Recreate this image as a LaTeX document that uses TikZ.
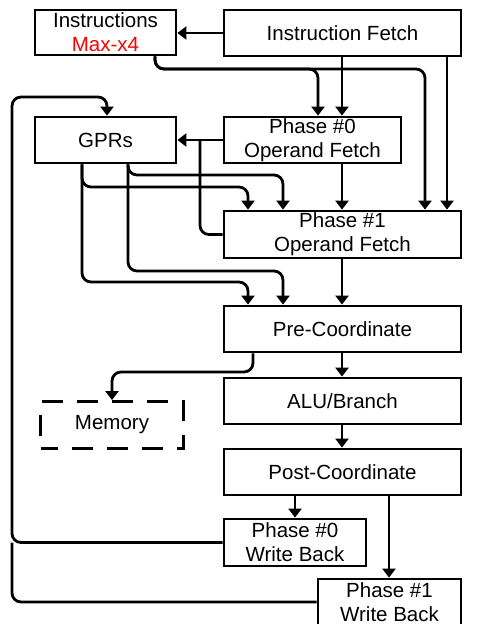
\documentclass[tikz,border=0pt]{standalone}
\usepackage{fontspec}
\setmainfont{Liberation Sans}
\usetikzlibrary{arrows.meta}
\begin{document}
\begin{tikzpicture}[x=1pt,y=-1pt,
  box/.style={draw,line width=2.8pt,inner sep=0pt,align=center,
    font=\fontsize{20.5}{24}\selectfont},
  link/.style={line width=2.8pt,rounded corners=9pt},
  arr/.style={link,-{Triangle[length=9pt,width=13pt]}}]
\useasboundingbox (0,0) rectangle (478,624);
% nodes
\node[box,minimum width=141pt,minimum height=45pt] (instr) at (105.5,32.5) {Instructions\\\textcolor{red}{Max-x4}};
\node[box,minimum width=237pt,minimum height=46pt] (ifetch) at (342.5,33) {Instruction Fetch};
\node[box,minimum width=141pt,minimum height=46pt] (gprs) at (105.5,140) {GPRs};
\node[box,minimum width=177pt,minimum height=46pt] (p0of) at (312.5,140) {Phase \#0\\Operand Fetch};
\node[box,minimum width=237pt,minimum height=47pt] (p1of) at (342.5,234.5) {Phase \#1\\Operand Fetch};
\node[box,minimum width=237pt,minimum height=46pt] (prec) at (342.5,329) {Pre-Coordinate};
\node[box,minimum width=237pt,minimum height=46pt] (alu) at (342.5,401) {ALU/Branch};
\node[box,minimum width=143pt,minimum height=47pt,dash pattern=on 21pt off 14pt,dash phase=4pt] (mem) at (112,425) {Memory};
\node[box,minimum width=237pt,minimum height=46pt] (postc) at (342.5,472) {Post-Coordinate};
\node[box,minimum width=142pt,minimum height=47pt] (p0wb) at (295,542.5) {Phase \#0\\Write Back};
\node[box,minimum width=143pt,minimum height=46pt] (p1wb) at (389.5,602) {Phase \#1\\Write Back};
% column / row helpers
\coordinate (xA) at (155,0);
\coordinate (xB) at (318,0);
\coordinate (xC) at (342,0);
\coordinate (xD) at (425,0);
\coordinate (xE) at (447,0);
\coordinate (xF) at (200,0);
\coordinate (xG) at (82,0);
\coordinate (xH) at (128,0);
\coordinate (xI) at (248,0);
\coordinate (xJ) at (283,0);
\coordinate (xK) at (253,0);
\coordinate (xL) at (112,0);
\coordinate (xM) at (295,0);
\coordinate (xN) at (389,0);
\coordinate (xO) at (12,0);
\coordinate (xP) at (107,0);
\coordinate (yA) at (0,69);
\coordinate (yB) at (0,97);
\coordinate (yC) at (0,175);
\coordinate (yD) at (0,187);
\coordinate (yE) at (0,271);
\coordinate (yF) at (0,282);
\coordinate (yG) at (0,372);
% connectors
\draw[arr] (ifetch.west) -- (ifetch.west -| instr.east);
\draw[arr] (xA |- instr.south) -- (xA |- yA) -- (xB |- yA) -- (xB |- p0of.north);
\draw[arr] (xA |- instr.south) -- (xA |- yA) -- (xD |- yA) -- (xD |- p1of.north);
\draw[arr] (xC |- ifetch.south) -- (xC |- p0of.north);
\draw[arr] (xE |- ifetch.south) -- (xE |- p1of.north);
\draw[arr] (p0of.west) -- (p0of.west -| gprs.east);
\draw[link] (p1of.west) -- (xF |- p1of.west) -- (xF |- p0of.west);
\draw[arr] (xG |- gprs.south) -- (xG |- yD) -- (xI |- yD) -- (xI |- p1of.north);
\draw[arr] (xG |- gprs.south) -- (xG |- yF) -- (xI |- yF) -- (xI |- prec.north);
\draw[arr] (xH |- gprs.south) -- (xH |- yC) -- (xJ |- yC) -- (xJ |- p1of.north);
\draw[arr] (xH |- gprs.south) -- (xH |- yE) -- (xJ |- yE) -- (xJ |- prec.north);
\draw[arr] (xC |- p0of.south) -- (xC |- p1of.north);
\draw[arr] (xC |- p1of.south) -- (xC |- prec.north);
\draw[arr] (xC |- prec.south) -- (xC |- alu.north);
\draw[arr] (xK |- prec.south) -- (xK |- yG) -- (xL |- yG) -- (xL |- mem.north);
\draw[arr] (xC |- alu.south) -- (xC |- postc.north);
\draw[arr] (xM |- postc.south) -- (xM |- p0wb.north);
\draw[arr] (xN |- postc.south) -- (xN |- p1wb.north);
\draw[arr] (p0wb.west) -- (xO |- p0wb.west) -- (xO |- yB) -- (xP |- yB) -- (xP |- gprs.north);
\draw[link] (p1wb.west) -- (xO |- p1wb.west) -- (xO |- p0wb.west);
\end{tikzpicture}
\end{document}
